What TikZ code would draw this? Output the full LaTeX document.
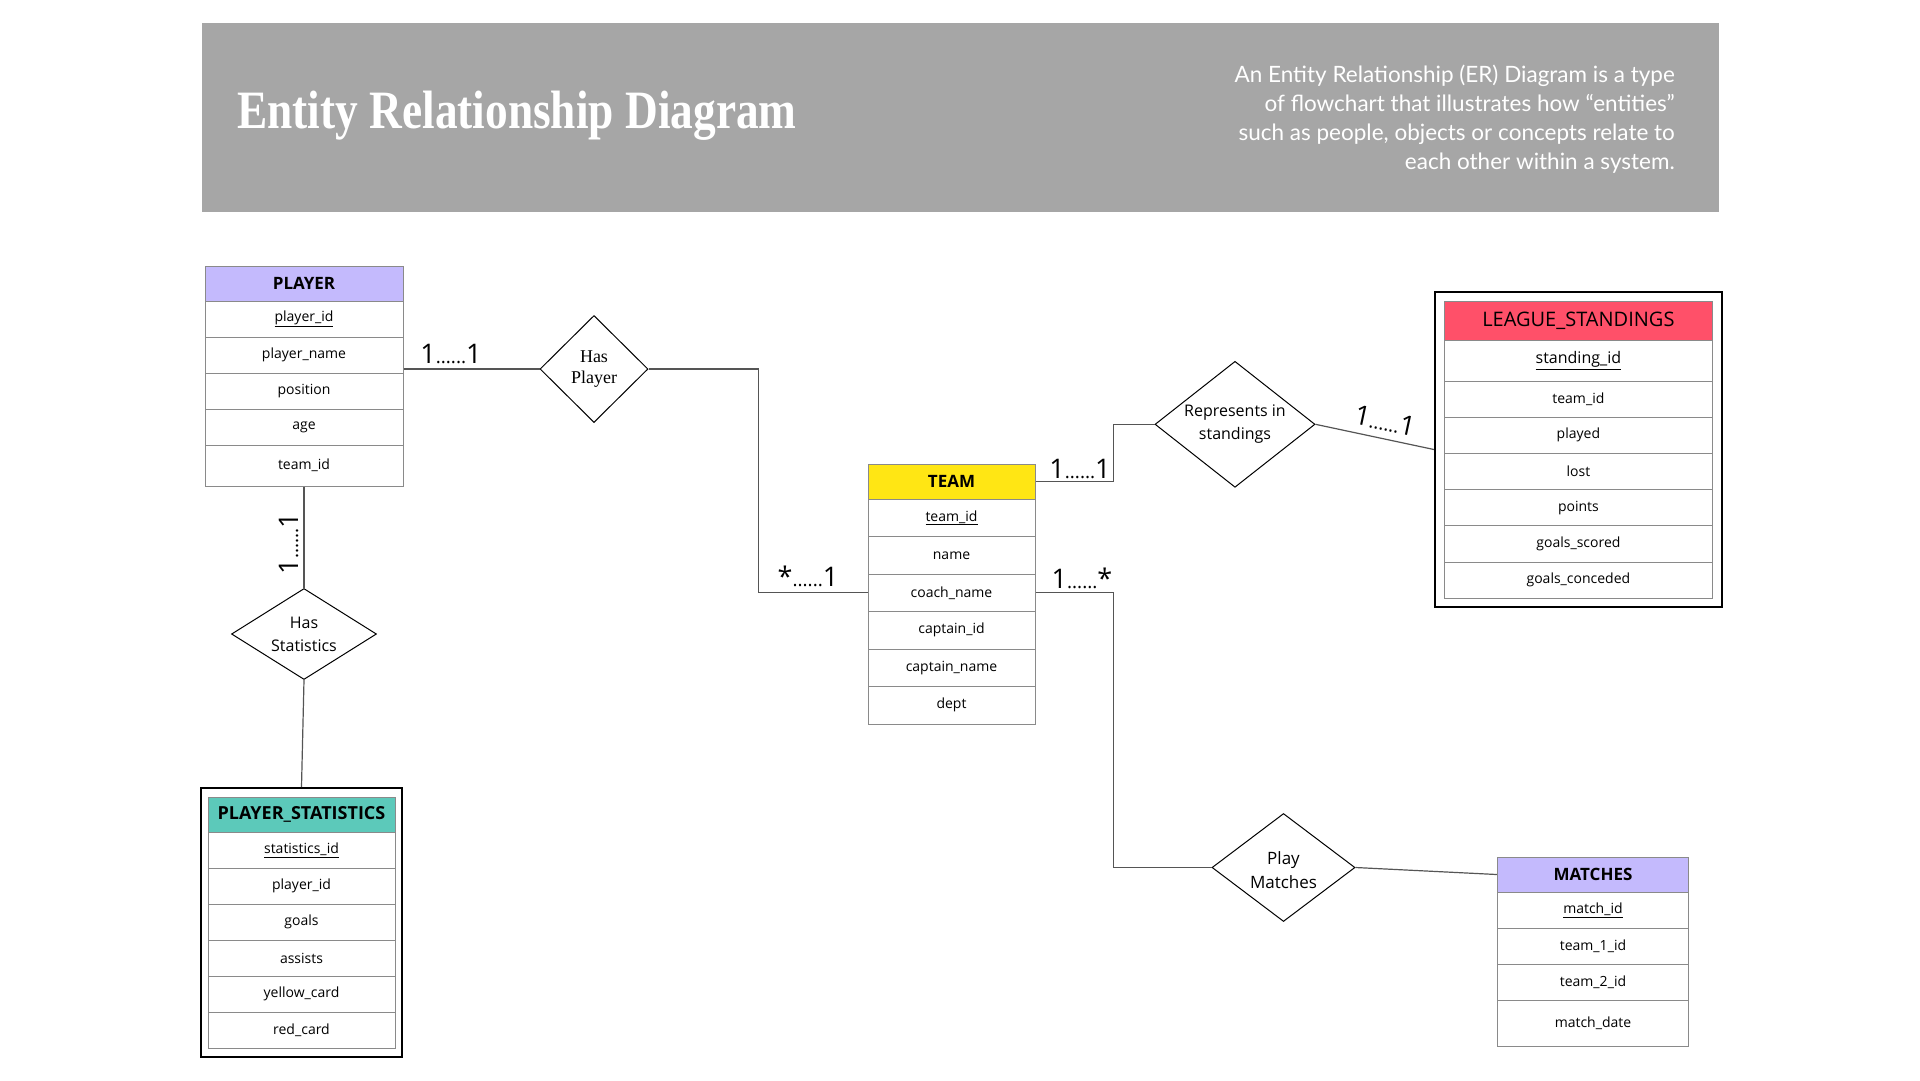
\documentclass[tikz,border=0pt]{standalone}
\usepackage{fontspec}
\setsansfont{Open Sans}
\newfontfamily\descfont{Lato}
\newfontfamily\titlefont{Liberation Serif}
\usetikzlibrary{shapes.geometric,positioning}
\definecolor{bannergray}{HTML}{A6A6A6}
\definecolor{playerlav}{HTML}{C4BAFD}
\definecolor{statteal}{HTML}{5CC9BA}
\definecolor{teamyellow}{HTML}{FFE614}
\definecolor{leaguered}{HTML}{FF5069}
\definecolor{rowgray}{HTML}{8A8A8A}
\definecolor{linkgray}{HTML}{555555}
\newcommand{\cardlbl}[2]{{\fontsize{27}{27}\selectfont #1}{\fontsize{19}{19}\selectfont......}{\fontsize{27}{27}\selectfont #2}}

\begin{document}
\begin{tikzpicture}[
    x=1pt, y=-1pt,
    ehead/.style={
        draw=rowgray, line width=1pt, minimum height=35, inner sep=0pt,
        font=\sffamily\bfseries\fontsize{17}{19}\selectfont
    },
    attr/.style={
        draw=rowgray, line width=1pt, fill=white, minimum height=36,
        inner sep=0pt, font=\sffamily\fontsize{14}{16}\selectfont
    },
    outerbox/.style={draw=black, line width=2pt, inner sep=0pt},
    rel/.style={diamond, draw, line width=1pt, inner sep=0pt},
    reltext/.style={font=\sffamily\fontsize{16}{23}\selectfont, align=center},
    card/.style={font=\sffamily, inner sep=0pt},
    link/.style={draw=linkgray, line width=1.2pt}
]
\useasboundingbox (0,0) rectangle (1920,1080);

% Banner
\node[fill=bannergray, minimum width=1517, minimum height=189, inner sep=0pt, anchor=north west] (banner) at (202,23) {};
\node[anchor=base west, inner sep=0pt, text=white, font=\titlefont\bfseries\fontsize{54}{60}\selectfont] (title) at (237,128) {\scalebox{0.84}[1]{Entity Relationship Diagram}};
\node[anchor=north east, align=right, inner sep=0pt, text=white, font=\descfont\fontsize{22.5}{29}\selectfont] (desc) at (1675,65)
    {An Entity Relationship (ER) Diagram is a type\\of flowchart that illustrates how “entities”\\such as people, objects or concepts relate to\\each other within a system.};

% PLAYER
\node[ehead, fill=playerlav, minimum width=198] (phead) at (304,283.5) {PLAYER};
\foreach \lbl [count=\i] in {\underline{player\_id}, player\_name, position, age}
    \node[attr, minimum width=198] (p\i) at (304,283+36*\i) {\lbl};
\node[attr, minimum width=198, minimum height=41] (p5) at (304,465.5) {team\_id};

% PLAYER_STATISTICS
\node[outerbox, minimum width=201, minimum height=269] (statsbox) at (301.5,922.5) {};
\node[ehead, fill=statteal, minimum width=187, font=\sffamily\bfseries\fontsize{18}{20}\selectfont] (shead) at (301.5,814.5) {PLAYER\_STATISTICS};
\foreach \lbl [count=\i] in {\underline{statistics\_id}, player\_id, goals, assists, yellow\_card, red\_card}
    \node[attr, minimum width=187] (s\i) at (301.5,814+36*\i) {\lbl};

% TEAM
\node[ehead, fill=teamyellow, minimum width=167] (thead) at (951.5,481.5) {TEAM};
\foreach \lbl [count=\i] in {\underline{team\_id}, name, coach\_name, captain\_id, captain\_name, dept}
    \node[attr, minimum width=167, minimum height=37.5] (t\i) at (951.5,480.25+37.5*\i) {\lbl};

% LEAGUE_STANDINGS
\node[outerbox, minimum width=287, minimum height=315] (leaguebox) at (1578.4,449.5) {};
\node[ehead, fill=leaguered, minimum width=268, minimum height=38.5, font=\sffamily\fontsize{20}{22}\selectfont] (lhead) at (1578.4,320.75) {LEAGUE\_STANDINGS};
\node[attr, minimum width=268, minimum height=41, font=\sffamily\fontsize{16}{18}\selectfont] (l0) at (1578.4,360.5) {\underline{standing\_id}};
\foreach \lbl [count=\i] in {team\_id, played, lost, points, goals\_scored, goals\_conceded}
    \node[attr, minimum width=268, minimum height=36.2] (l\i) at (1578.4,362.9+36.2*\i) {\lbl};

% MATCHES
\node[ehead, fill=playerlav, minimum width=191.5] (mhead) at (1593,874.5) {MATCHES};
\foreach \lbl [count=\i] in {\underline{match\_id}, team\_1\_id, team\_2\_id}
    \node[attr, minimum width=191.5] (m\i) at (1593,874+36*\i) {\lbl};
\node[attr, minimum width=191.5, minimum height=46] (m4) at (1593,1023) {match\_date};

% Relationships
\node[rel, minimum width=108, minimum height=107,
    label={[reltext, font=\titlefont\fontsize{18}{21}\selectfont]center:Has\\Player}] (hasplayer) at (594,369) {};
\node[rel, minimum width=145, minimum height=91,
    label={[reltext]center:Has\\Statistics}] (hasstats) at (304,634) {};
\node[rel, minimum width=160, minimum height=126,
    label={[reltext]center:Represents in\\standings}] (repr) at (1235,424.3) {};
\node[rel, minimum width=143, minimum height=108,
    label={[reltext, font=\sffamily\fontsize{17}{24}\selectfont, yshift=-3]center:Play\\Matches}] (play) at (1283.5,867.5) {};

% Connectors
\draw[link] (p2.east |- hasplayer.west) -- (hasplayer.west);
\draw[link] (hasplayer.east) -- ++(110,0) |- (t3.west);
\draw[link] (p5.south) -- (hasstats.north);
\draw[link] (hasstats.south) -- (statsbox.north);
\draw[link] (thead.east) -- ++(78,0) |- (repr.west);
\draw[link] (repr.east) -- (leaguebox.west);
\draw[link] (t3.east) -- ++(78,0) |- (play.west);
\draw[link] (play.east) -- (mhead.west);

% Cardinalities
\node[card, anchor=base] (cpl) at (451,363) {\cardlbl{1}{1}};
\node[card, anchor=base, rotate=90] (cps) at (298,543.5) {\cardlbl{1}{1}};
\node[card, anchor=base] (cpt) at (808,586) {\cardlbl{*}{1}};
\node[card, anchor=base] (ctr) at (1080,478) {\cardlbl{1}{1}};
\node[card, anchor=base] (ctm) at (1082,588) {\cardlbl{1}{*}};
\node[card, rotate=-12] (crl) at (1385,421) {\cardlbl{1}{1}};

\end{tikzpicture}
\end{document}
